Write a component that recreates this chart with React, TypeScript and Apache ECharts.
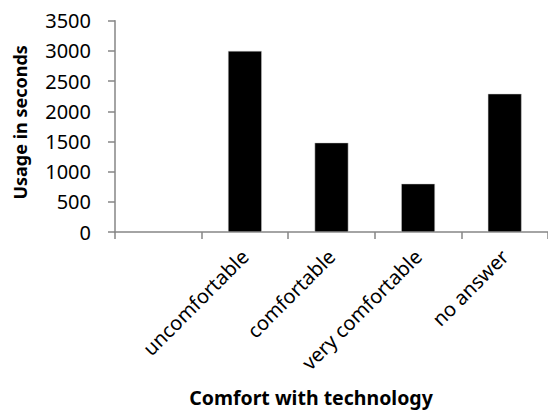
import React, { useEffect, useRef } from "react";
import * as echarts from "echarts";

const categories = ["", "uncomfortable", "comfortable", "very comfortable", "no answer"];
const usageSeconds: (number | null)[] = [null, 3000, 1480, 800, 2290];
const yTicks = { min: 0, max: 3500, interval: 500 };
const xTitle = "Comfort with technology";
const yTitle = "Usage in seconds";

const FONT = "'Noto Sans', 'Open Sans', sans-serif";

export default function App() {
  const ref = useRef<HTMLDivElement>(null);
  useEffect(() => {
    if (!ref.current) return;
    const chart = echarts.init(ref.current, undefined, { renderer: "svg" });
    chart.setOption({
      animation: false,
      backgroundColor: "#ffffff",
      grid: { left: 115, top: 20.7, width: 434, height: 212.3, containLabel: false },
      xAxis: {
        type: "category",
        data: categories,
        name: xTitle,
        nameLocation: "middle",
        nameGap: 155,
        nameTextStyle: {
          fontFamily: FONT,
          fontWeight: "bold",
          fontSize: 19.5,
          color: "#000",
          padding: [0, 41, 0, 0],
        },
        axisLine: { lineStyle: { color: "#868686", width: 1.5 } },
        axisTick: { show: true, length: 7, lineStyle: { color: "#868686", width: 1.5 } },
        axisLabel: {
          rotate: 45,
          margin: 21,
          fontFamily: FONT,
          fontSize: 20,
          color: "#000",
          interval: 0,
        },
      },
      yAxis: {
        type: "value",
        min: yTicks.min,
        max: yTicks.max,
        interval: yTicks.interval,
        name: yTitle,
        nameLocation: "middle",
        nameRotate: 90,
        nameGap: 86,
        nameTextStyle: {
          fontFamily: FONT,
          fontWeight: "bold",
          fontSize: 18,
          color: "#000",
          padding: [0, 0, 0, 8],
        },
        splitLine: { show: false },
        axisLine: { show: true, lineStyle: { color: "#868686", width: 1.5 } },
        axisTick: { show: true, length: 7, lineStyle: { color: "#868686", width: 1.5 } },
        axisLabel: {
          margin: 24,
          fontFamily: FONT,
          fontSize: 20,
          color: "#000",
          formatter: (v: number) => String(v),
        },
      },
      series: [
        {
          type: "bar",
          data: usageSeconds,
          barWidth: "39%",
          itemStyle: { color: "#000000", borderColor: "#d0d0d0", borderWidth: 0.5 },
        },
      ],
    });
    return () => chart.dispose();
  }, []);
  return (
    <div
      ref={ref}
      style={{ position: "fixed", left: 0, top: 0, width: 548, height: 412, background: "#fff" }}
    />
  );
}
